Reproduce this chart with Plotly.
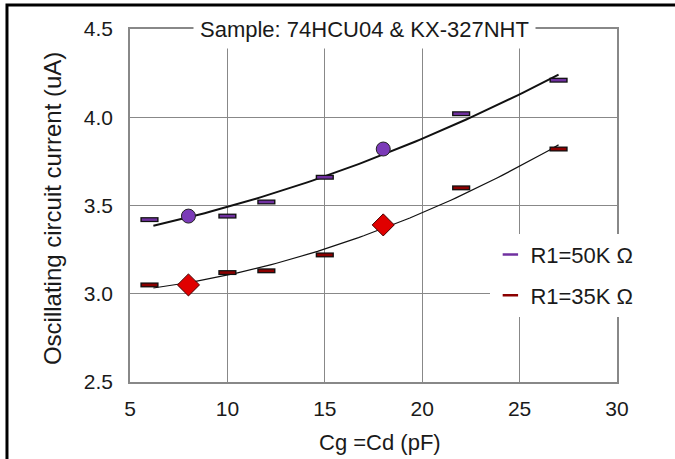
import numpy as np
import plotly.graph_objects as go

# ---- data ----
cap_x = [6, 10, 12, 15, 22, 27]
r50_y = [3.42, 3.44, 3.52, 3.66, 4.02, 4.21]
r35_y = [3.05, 3.12, 3.13, 3.22, 3.60, 3.82]
hi_x = [8, 18]
r50_hi = [3.44, 3.82]
r35_hi = [3.05, 3.39]
x_ticks = [5, 10, 15, 20, 25, 30]
y_ticks = [2.5, 3.0, 3.5, 4.0, 4.5]
names = ["R1=50K Ω", "R1=35K Ω"]
title_text = "Sample: 74HCU04 & KX-327NHT"
x_title = "Cg =Cd (pF)"
y_title = "Oscillating circuit current (uA)"

FONT = "Liberation Sans"

def trend(xs, ys):
    c = np.polyfit(xs, ys, 2)
    xx = np.linspace(6.2, 27, 80)
    return xx, np.polyval(c, xx)

fig = go.Figure()

all50_x = cap_x + hi_x
all50_y = r50_y + r50_hi
all35_y = r35_y + r35_hi
tx, ty = trend(all50_x, all50_y)
fig.add_trace(go.Scatter(x=tx, y=ty, mode="lines", line=dict(color="#111", width=2),
                         showlegend=False, hoverinfo="skip"))
tx, ty = trend(all50_x, all35_y)
fig.add_trace(go.Scatter(x=tx, y=ty, mode="lines", line=dict(color="#111", width=1.2),
                         showlegend=False, hoverinfo="skip"))

for ys, col, nm, grp in [(r50_y, "#7030a0", names[0], "a"), (r35_y, "#8b0000", names[1], "b")]:
    fig.add_trace(go.Scatter(x=cap_x, y=ys, mode="markers", showlegend=False, legendgroup=grp,
                             marker=dict(symbol="line-ew", size=13, line=dict(color="#111", width=5))))
    fig.add_trace(go.Scatter(x=cap_x, y=ys, mode="markers", name=nm, legendgroup=grp,
                             marker=dict(symbol="line-ew", size=11, line=dict(color=col, width=2.5))))

fig.add_trace(go.Scatter(x=hi_x, y=r50_hi, mode="markers", showlegend=False,
                         marker=dict(symbol="circle", size=14, color="#7b3ab8",
                                     line=dict(color="#222", width=1))))
fig.add_trace(go.Scatter(x=hi_x, y=r35_hi, mode="markers", showlegend=False,
                         marker=dict(symbol="diamond", size=17, color="#e00000",
                                     line=dict(color="#400", width=1))))

fig.update_layout(
    width=675, height=459,
    margin=dict(l=130, r=58, t=29, b=77),
    paper_bgcolor="white", plot_bgcolor="white",
    font=dict(family=FONT, size=20, color="#1a1a1a"),
    showlegend=True,
    legend=dict(x=0.74, y=0.42, xanchor="left", yanchor="top", bgcolor="white",
                font=dict(size=22), tracegroupgap=9, traceorder="grouped",
                itemsizing="trace"),
    xaxis=dict(range=[5, 30], tickvals=x_ticks, ticktext=[str(v) for v in x_ticks],
               showgrid=True, gridcolor="#888", gridwidth=1, zeroline=False,
               showline=True, linecolor="#888", linewidth=1.5, mirror=True,
               ticks="outside", ticklen=7, tickcolor="rgba(0,0,0,0)",
               tickfont=dict(size=21), automargin=False),
    yaxis=dict(range=[2.5, 4.5], tickvals=y_ticks, ticktext=[f"{v:.1f}" for v in y_ticks],
               showgrid=True, gridcolor="#888", gridwidth=1, zeroline=False,
               showline=True, linecolor="#888", linewidth=1.5, mirror=True,
               ticks="outside", ticklen=11, tickcolor="rgba(0,0,0,0)",
               tickfont=dict(size=21), automargin=False),
)

fig.add_annotation(text=title_text, x=0.481, y=1.0, xref="paper", yref="paper",
                   xanchor="center", yanchor="middle", showarrow=False, bgcolor="white",
                   font=dict(size=22), borderpad=6)
fig.add_annotation(text=x_title, x=0.513, y=-0.170, xref="paper", yref="paper",
                   xanchor="center", yanchor="middle", showarrow=False,
                   font=dict(size=22))
fig.add_annotation(text=y_title, x=-0.160, y=0.49, xref="paper", yref="paper",
                   xanchor="center", yanchor="middle", showarrow=False, textangle=-90,
                   font=dict(size=24))

fig.add_shape(type="rect", xref="paper", yref="paper", x0=-0.2526, x1=1.13,
              y0=-0.235, y1=1.068, line=dict(color="black", width=3), layer="above")

fig.write_html("out.html", config={"displayModeBar": False},
               post_script="document.body.style.margin='0px';")
